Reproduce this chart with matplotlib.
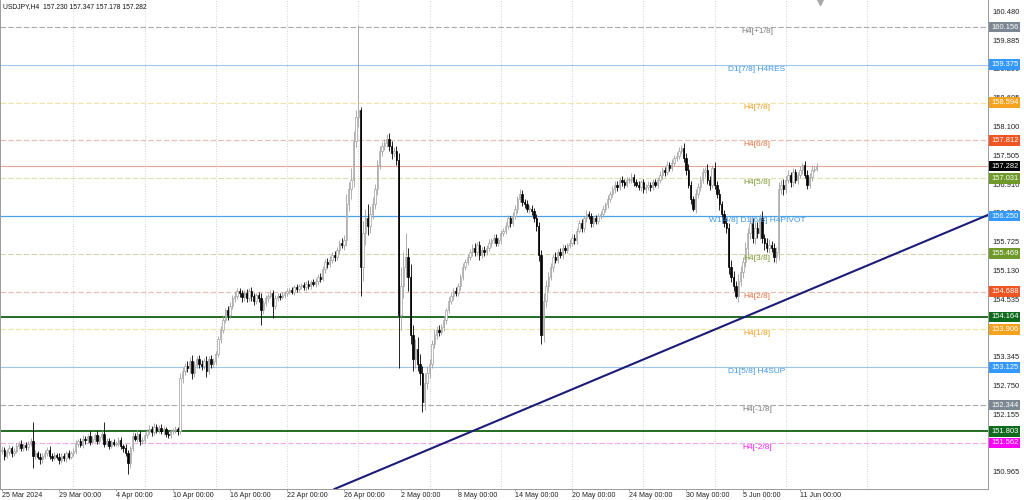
import numpy as np
import matplotlib.pyplot as plt
from matplotlib.transforms import blended_transform_factory

plt.rcParams['font.family'] = ['Liberation Sans', 'DejaVu Sans']

title = "USDJPY,H4  157.230 157.347 157.178 157.282"

# H4 candles, 6 per trading day, open = previous close
first_open = 151.40
closes = [
    151.42, 151.30, 151.38, 151.45, 151.35, 151.40,  # 25 Mar
    151.50, 151.55, 151.45, 151.52, 151.48, 151.55,
    151.60, 151.30, 151.35, 151.28, 151.22, 151.30,
    151.35, 151.42, 151.30, 151.25, 151.32, 151.28,
    151.20, 151.30, 151.25, 151.35, 151.28, 151.35,  # 29 Mar
    151.40, 151.55, 151.60, 151.52, 151.65, 151.62,
    151.70, 151.58, 151.65, 151.72, 151.60, 151.68,
    151.75, 151.55, 151.60, 151.50, 151.58, 151.55,
    151.55, 151.62, 151.50, 151.45, 151.35, 151.15,  # 4 Apr
    151.45, 151.70, 151.65, 151.75, 151.60, 151.62,
    151.72, 151.80, 151.85, 151.78, 151.90, 151.82,
    151.88, 151.80, 151.85, 151.75, 151.72, 151.80,
    151.82, 151.85, 151.80, 152.90, 153.05, 153.15,  # 10 Apr
    153.10, 153.25, 153.00, 153.18, 153.30, 153.20,
    153.15, 153.25, 153.05, 153.30, 153.20, 153.25,
    153.40, 153.70, 153.90, 154.10, 154.30, 154.20,
    154.40, 154.55, 154.60, 154.70, 154.65, 154.58,  # 16 Apr
    154.65, 154.55, 154.70, 154.60, 154.50, 154.62,
    154.55, 154.30, 154.45, 154.55, 154.60, 154.65,
    154.40, 154.55, 154.60, 154.58, 154.62, 154.65,
    154.70, 154.72, 154.68, 154.78, 154.75, 154.80,  # 22 Apr
    154.82, 154.78, 154.85, 154.80, 154.88, 154.85,
    154.90, 155.00, 154.95, 155.15, 155.30, 155.25,
    155.35, 155.45, 155.40, 155.55, 155.70, 155.65,
    155.75, 156.50, 156.80, 157.00, 157.80, 158.30,  # 26 Apr
    158.45, 155.20, 155.90, 156.20, 156.05, 156.30,
    156.50, 156.80, 157.30, 157.60, 157.70, 157.75,
    157.85, 157.70, 157.55, 157.60, 157.40, 154.20,
    154.80, 155.20, 155.40, 155.00, 153.80, 153.30,  # 2 May
    153.50, 153.20, 153.00, 152.40, 152.80, 153.00,
    153.20, 153.60, 153.80, 153.90, 153.85, 153.95,
    154.10, 154.30, 154.50, 154.60, 154.70, 154.65,
    154.80, 155.00, 155.20, 155.30, 155.40, 155.50,  # 8 May
    155.60, 155.50, 155.65, 155.45, 155.55, 155.50,
    155.60, 155.70, 155.75, 155.80, 155.70, 155.75,
    155.90, 155.95, 156.05, 156.20, 156.10, 156.25,
    156.40, 156.60, 156.70, 156.55, 156.50, 156.40,  # 14 May
    156.40, 156.35, 156.20, 156.05, 155.45, 153.80,
    154.50, 154.80, 155.00, 155.20, 155.40, 155.35,
    155.50, 155.45, 155.60, 155.55, 155.65, 155.70,
    155.80, 155.75, 155.95, 156.10, 156.00, 156.20,  # 20 May
    156.30, 156.25, 156.10, 156.20, 156.15, 156.25,
    156.30, 156.40, 156.50, 156.60, 156.70, 156.80,
    156.90, 156.85, 157.00, 156.95, 156.90, 157.00,
    157.00, 157.05, 156.95, 156.90, 156.85, 156.95,  # 24 May
    156.80, 156.85, 156.90, 156.85, 156.95, 156.90,
    157.00, 157.10, 157.20, 157.15, 157.30, 157.25,
    157.35, 157.45, 157.50, 157.60, 157.65, 157.45,
    157.20, 156.90, 156.60, 156.40, 156.70, 156.85,  # 30 May
    157.00, 157.15, 157.20, 157.00, 156.90, 157.25,
    156.90, 156.70, 156.50, 156.30, 156.10, 156.00,
    155.20, 155.00, 154.80, 154.60, 154.90, 155.10,
    155.30, 155.60, 155.90, 156.10, 155.80, 156.00,  # 5 Jun
    155.90, 156.20, 155.80, 155.70, 155.60, 155.65,
    155.60, 155.40, 155.50, 156.80, 156.90, 156.80,
    157.00, 157.10, 156.95, 157.15, 157.00, 157.10,
    157.20, 157.30, 157.10, 156.90, 157.05, 157.20,  # 11 Jun
    157.23, 157.282,
]
upper_wick = [
    0.08, 0.06, 0.05, 0.07, 0.05, 0.06, 0.06, 0.05, 0.08, 0.04, 0.06, 0.05,
    0.07, 0.40, 0.06, 0.05, 0.08, 0.05, 0.06, 0.05, 0.07, 0.06, 0.05, 0.04,
    0.08, 0.05, 0.06, 0.05, 0.07, 0.05, 0.06, 0.08, 0.05, 0.06, 0.07, 0.05,
    0.05, 0.10, 0.06, 0.05, 0.08, 0.04, 0.08, 0.25, 0.06, 0.07, 0.05, 0.06,
    0.05, 0.07, 0.06, 0.05, 0.08, 0.06, 0.05, 0.08, 0.06, 0.07, 0.05, 0.06,
    0.06, 0.05, 0.08, 0.06, 0.07, 0.05, 0.05, 0.07, 0.06, 0.05, 0.06, 0.05,
    0.05, 0.06, 0.05, 0.10, 0.08, 0.07, 0.10, 0.08, 0.12, 0.07, 0.06, 0.08,
    0.07, 0.06, 0.10, 0.05, 0.08, 0.06, 0.06, 0.08, 0.07, 0.09, 0.06, 0.10,
    0.08, 0.06, 0.10, 0.07, 0.06, 0.08, 0.07, 0.09, 0.06, 0.08, 0.07, 0.05,
    0.06, 0.10, 0.07, 0.06, 0.05, 0.07, 0.08, 0.06, 0.07, 0.05, 0.06, 0.05,
    0.06, 0.05, 0.07, 0.05, 0.06, 0.05, 0.05, 0.06, 0.05, 0.07, 0.05, 0.06,
    0.06, 0.05, 0.08, 0.06, 0.07, 0.08, 0.07, 0.06, 0.08, 0.07, 0.06, 0.10,
    0.10, 0.20, 0.15, 0.25, 0.20, 0.15, 1.75, 0.05, 0.25, 0.20, 0.30, 0.15,
    0.15, 0.12, 0.10, 0.10, 0.08, 0.10, 0.10, 0.12, 0.10, 0.08, 0.10, 0.15,
    0.40, 0.30, 0.50, 0.20, 0.25, 0.20, 0.20, 0.25, 0.20, 0.15, 0.20, 0.15,
    0.10, 0.08, 0.12, 0.07, 0.10, 0.06, 0.08, 0.06, 0.07, 0.09, 0.06, 0.08,
    0.07, 0.06, 0.08, 0.06, 0.07, 0.06, 0.08, 0.10, 0.06, 0.09, 0.07, 0.08,
    0.06, 0.07, 0.05, 0.08, 0.07, 0.06, 0.07, 0.06, 0.08, 0.07, 0.06, 0.08,
    0.08, 0.07, 0.10, 0.09, 0.06, 0.08, 0.07, 0.08, 0.06, 0.10, 0.08, 0.10,
    0.15, 0.12, 0.10, 0.08, 0.07, 0.10, 0.06, 0.08, 0.07, 0.06, 0.05, 0.07,
    0.07, 0.08, 0.06, 0.07, 0.09, 0.06, 0.08, 0.06, 0.07, 0.05, 0.08, 0.06,
    0.06, 0.07, 0.05, 0.08, 0.06, 0.07, 0.08, 0.07, 0.06, 0.08, 0.07, 0.06,
    0.06, 0.08, 0.07, 0.06, 0.08, 0.05, 0.07, 0.06, 0.08, 0.05, 0.07, 0.06,
    0.06, 0.08, 0.07, 0.06, 0.08, 0.07, 0.07, 0.06, 0.08, 0.07, 0.07, 0.10,
    0.10, 0.12, 0.08, 0.07, 0.10, 0.08, 0.08, 0.10, 0.07, 0.12, 0.08, 0.06,
    0.12, 0.08, 0.10, 0.07, 0.08, 0.10, 0.10, 0.15, 0.12, 0.10, 0.15, 0.12,
    0.10, 0.12, 0.10, 0.15, 0.10, 0.12, 0.12, 0.10, 0.15, 0.08, 0.10, 0.12,
    0.08, 0.10, 0.12, 0.15, 0.10, 0.12, 0.08, 0.10, 0.07, 0.09, 0.08, 0.07,
    0.08, 0.05, 0.09, 0.10, 0.08, 0.10, 0.06, 0.065,
]
lower_wick = [
    0.06, 0.10, 0.05, 0.06, 0.08, 0.05, 0.05, 0.07, 0.06, 0.05, 0.07, 0.06,
    0.05, 0.25, 0.08, 0.06, 0.10, 0.07, 0.05, 0.06, 0.08, 0.07, 0.05, 0.06,
    0.07, 0.05, 0.06, 0.08, 0.05, 0.06, 0.05, 0.06, 0.07, 0.05, 0.06, 0.08,
    0.06, 0.07, 0.05, 0.06, 0.07, 0.05, 0.05, 0.08, 0.06, 0.07, 0.05, 0.06,
    0.06, 0.05, 0.07, 0.08, 0.06, 0.22, 0.10, 0.06, 0.05, 0.07, 0.08, 0.05,
    0.05, 0.06, 0.05, 0.07, 0.06, 0.05, 0.06, 0.05, 0.07, 0.06, 0.05, 0.06,
    0.06, 0.05, 0.07, 0.05, 0.10, 0.08, 0.08, 0.10, 0.12, 0.08, 0.07, 0.10,
    0.08, 0.07, 0.12, 0.06, 0.10, 0.07, 0.07, 0.06, 0.08, 0.07, 0.06, 0.10,
    0.06, 0.08, 0.07, 0.06, 0.08, 0.10, 0.08, 0.07, 0.06, 0.10, 0.08, 0.07,
    0.07, 0.30, 0.08, 0.06, 0.07, 0.05, 0.25, 0.08, 0.06, 0.07, 0.05, 0.06,
    0.06, 0.07, 0.05, 0.06, 0.07, 0.05, 0.05, 0.06, 0.07, 0.05, 0.06, 0.05,
    0.06, 0.07, 0.06, 0.05, 0.08, 0.07, 0.06, 0.08, 0.07, 0.06, 0.08, 0.07,
    0.10, 0.12, 0.15, 0.20, 0.15, 0.12, 0.20, 0.60, 0.30, 0.25, 0.20, 0.15,
    0.12, 0.10, 0.12, 0.08, 0.10, 0.08, 0.08, 0.10, 0.12, 0.08, 0.10, 1.10,
    0.30, 0.25, 0.20, 0.30, 0.20, 0.25, 0.20, 0.15, 0.25, 0.20, 0.15, 0.12,
    0.10, 0.08, 0.07, 0.10, 0.08, 0.06, 0.07, 0.08, 0.06, 0.07, 0.08, 0.06,
    0.06, 0.07, 0.08, 0.06, 0.07, 0.05, 0.07, 0.08, 0.06, 0.10, 0.07, 0.08,
    0.06, 0.07, 0.08, 0.06, 0.07, 0.06, 0.07, 0.06, 0.08, 0.07, 0.08, 0.06,
    0.06, 0.08, 0.07, 0.10, 0.08, 0.07, 0.08, 0.07, 0.08, 0.10, 0.12, 0.20,
    0.15, 0.12, 0.10, 0.08, 0.10, 0.07, 0.07, 0.06, 0.08, 0.07, 0.06, 0.05,
    0.06, 0.08, 0.07, 0.06, 0.08, 0.07, 0.07, 0.06, 0.08, 0.07, 0.06, 0.07,
    0.06, 0.07, 0.06, 0.08, 0.07, 0.06, 0.07, 0.08, 0.06, 0.07, 0.08, 0.06,
    0.06, 0.07, 0.08, 0.06, 0.07, 0.08, 0.08, 0.07, 0.06, 0.08, 0.07, 0.06,
    0.07, 0.06, 0.08, 0.07, 0.06, 0.07, 0.06, 0.07, 0.06, 0.08, 0.07, 0.08,
    0.10, 0.08, 0.10, 0.05, 0.08, 0.07, 0.08, 0.07, 0.10, 0.08, 0.12, 0.07,
    0.10, 0.08, 0.12, 0.10, 0.08, 0.10, 0.15, 0.12, 0.10, 0.05, 0.12, 0.10,
    0.12, 0.10, 0.15, 0.12, 0.10, 0.12, 0.10, 0.12, 0.10, 0.15, 0.10, 0.12,
    0.10, 0.10, 0.12, 0.15, 0.10, 0.12, 0.08, 0.07, 0.09, 0.08, 0.07, 0.08,
    0.07, 0.08, 0.06, 0.10, 0.08, 0.07, 0.05, 0.052,
]

date_labels = ["25 Mar 2024", "29 Mar 00:00", "4 Apr 00:00", "10 Apr 00:00",
               "16 Apr 00:00", "22 Apr 00:00", "26 Apr 00:00", "2 May 00:00",
               "8 May 00:00", "14 May 00:00", "20 May 00:00", "24 May 00:00",
               "30 May 00:00", "5 Jun 00:00", "11 Jun 00:00"]
date_label_bars = [0, 24, 48, 72, 96, 120, 144, 168, 192, 216, 240, 264, 288, 312, 336]
grid_bars = [30, 60, 90, 120, 150, 180, 210, 240, 270, 300, 330, 364]

price_ticks = [160.480, 159.885, 159.290, 158.695, 158.100, 157.505, 156.910,
               156.320, 155.725, 155.130, 154.535, 153.940, 153.345, 152.750,
               152.155, 151.560, 150.965]

level_prices = [160.156, 159.375, 158.594, 157.812, 157.282, 157.031, 156.250,
                155.469, 154.688, 154.164, 153.906, 153.125, 152.344, 151.803,
                151.562]
level_names = ["H4[+1/8]", "D1[7/8] H4RES", "H4[7/8]", "H4[6/8]", "", "H4[5/8]",
               "W1[4/8] D1[6/8] H4PIVOT", "H4[3/8]", "H4[2/8]", "", "H4[1/8]",
               "D1[5/8] H4SUP", "H4[-1/8]", "", "H4[-2/8]"]

# trendline anchors (bar index, price)
trend_bars = [140, 415]
trend_prices = [150.61, 156.27]

# styles
line_colors = ['#aaaaaa', '#9cc6ea', '#f2e2a4', '#ebbcaa', '#e6a696', '#dbe2aa',
               '#4aa3e8', '#d8d3b0', '#ebbcaa', '#226b22', '#f2e2a4', '#9cc6ea',
               '#aaaaaa', '#226b22', '#f0a8e8']
line_styles = ['--', '-', '--', '--', '-', '--', '-', '--', '--', '-', '--', '-',
               '--', '-', '--']
line_widths = [0.8, 0.8, 0.8, 0.8, 0.8, 0.8, 0.9, 0.8, 0.8, 1.4, 0.8, 0.8, 0.8, 1.4, 0.8]
box_colors = ['#7d8793', '#3399ff', '#f5a31e', '#f05522', '#000000', '#6f9a2a',
              '#3399ff', '#6f9a2a', '#f05522', '#0f6b1c', '#f5a31e', '#3399ff',
              '#7d8793', '#0f6b1c', '#ff00ff']
name_colors = ['#7d7d7d', '#3f97e6', '#f0a020', '#e87040', '', '#7a9a30',
               '#3f97e6', '#7a9a30', '#e87040', '', '#f0a020', '#3f97e6',
               '#7d7d7d', '', '#ee22ee']

PX = 2.375  # pixels per bar
x0 = -2 / PX
x1 = (988 - 2) / PX
y_top, y_bot = 160.714, 150.61

fig = plt.figure(figsize=(10.24, 5.0), dpi=100)
ax = fig.add_axes([0, 11 / 500, 988 / 1024, 489 / 500])
ax.set_xlim(x0, x1)
ax.set_ylim(y_bot, y_top)

for g in grid_bars:
    ax.axvline(g, color='#c4c4c4', lw=0.6, ls=(0, (1, 2)), zorder=0)

for p, ls, c, w in zip(level_prices, line_styles, line_colors, line_widths):
    if ls == '--':
        ax.axhline(p, color=c, lw=w, ls=(0, (5, 2)), zorder=1)
    else:
        ax.axhline(p, color=c, lw=w, ls='-', zorder=1)

# candles
c = np.array(closes)
o = np.r_[first_open, c[:-1]]
hi = np.maximum(o, c) + np.array(upper_wick)
lo = np.minimum(o, c) - np.array(lower_wick)
idx = np.arange(len(c))
up = c >= o
dn = ~up
ax.vlines(idx[up], lo[up], hi[up], color='#a0a0a0', lw=0.6, zorder=3)
ax.vlines(idx[dn], lo[dn], hi[dn], color='black', lw=0.6, zorder=3)
body = np.maximum(np.abs(c - o), 0.01)
ax.bar(idx[up], body[up], bottom=o[up], width=0.62, color='white',
       edgecolor='#a0a0a0', lw=0.5, zorder=4)
ax.bar(idx[dn], body[dn], bottom=c[dn], width=0.62, color='black',
       edgecolor='black', lw=0.5, zorder=4)

# trendline
ax.plot(trend_bars, trend_prices, color='#1c1c78', lw=1.5, zorder=5)

# level names
for p, name, col in zip(level_prices, level_names, name_colors):
    if name:
        ax.annotate(name, xy=(757 / 988, p), xycoords=('axes fraction', 'data'),
                    xytext=(0, -4.5), textcoords='offset pixels', ha='center',
                    va='center', fontsize=6.0, color=col, zorder=6)

# axes
ax.yaxis.tick_right()
ax.set_yticks(price_ticks)
ax.set_yticklabels([f"{t:.3f}" for t in price_ticks])
ax.tick_params(axis='y', length=0, pad=3, labelsize=5.4, colors='#222222')
ax.set_xticks(date_label_bars)
ax.set_xticklabels(date_labels)
ax.tick_params(axis='x', length=1.5, width=0.6, pad=1, labelsize=5.1,
               colors='#222222', color='#888888')
for lab in ax.get_xticklabels():
    lab.set_ha('left')
for s in ax.spines.values():
    s.set_color('#9a9a9a')
    s.set_linewidth(0.7)
ax.spines['top'].set_visible(False)

# price boxes on the right axis
tr = blended_transform_factory(ax.transAxes, ax.transData)
for p, bc in zip(level_prices, box_colors):
    ax.text(1.0 + 3 / 988, p, f"{p:.3f}", transform=tr, ha='left', va='center',
            fontsize=5.4, color='white', clip_on=False, zorder=10,
            bbox=dict(boxstyle='square,pad=0.25', fc=bc, ec='none'))

# shift marker
ax.plot([820 / 988], [0.995], marker='v', color='#a8a8a8', markersize=5,
        transform=ax.transAxes, clip_on=False)

fig.text(3 / 1024, 1 - 7 / 500, title, ha='left', va='center', fontsize=4.9,
         color='#111111')

fig.savefig('out.png', dpi=100)
